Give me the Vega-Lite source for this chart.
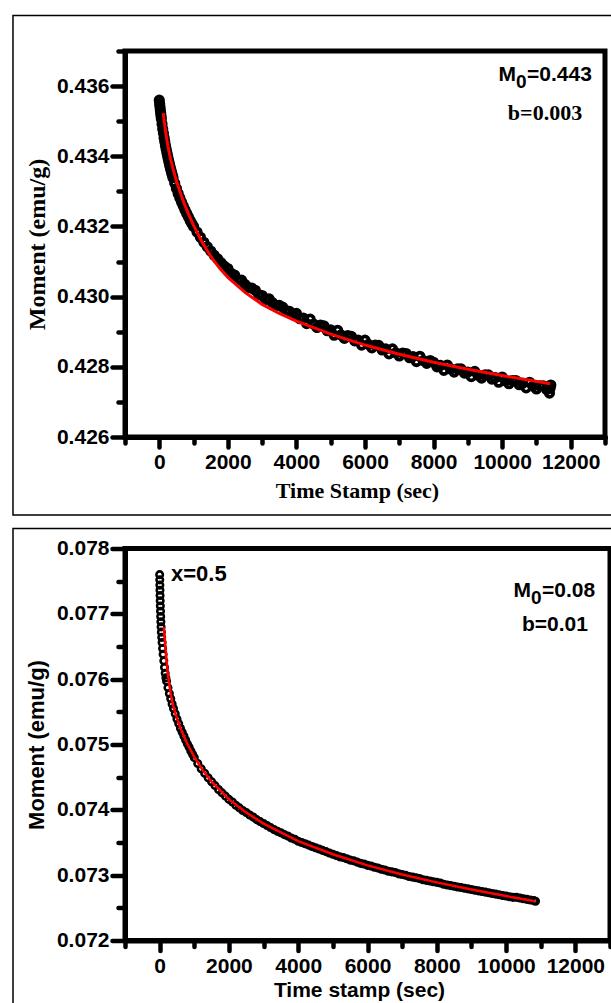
{
"$schema": "https://vega.github.io/schema/vega-lite/v6.json",
"padding": {"left": 9, "top": 12, "right": 0, "bottom": 0},
"spacing": 111.5,
"bounds": "flush",
"config": {
  "view": {"stroke": "black", "strokeWidth": 5},
  "axis": {"grid": false, "domainColor": "black", "domainWidth": 5, "domainCap": "round", "tickColor": "black", "tickWidth": 4.5, "tickCap": "round", "labelColor": "black", "titleColor": "black", "labelFont": "Liberation Sans", "labelFontWeight": "bold", "labelFontSize": 21, "titleFont": "Liberation Sans", "titleFontWeight": "bold", "titleFontSize": 22, "labelFlush": false, "labelOverlap": false}
},
"datasets": {
  "top": [
    {"t":0,"m":0.4356},{"t":10,"m":0.4355},{"t":20,"m":0.43541},{"t":30,"m":0.43532},{"t":40,"m":0.43523},{"t":50,"m":0.43515},{"t":60,"m":0.43507},{"t":80,"m":0.43492},{"t":100,"m":0.43478},{"t":120,"m":0.43466},{"t":140,"m":0.43453},{"t":160,"m":0.43442},{"t":180,"m":0.43431},{"t":200,"m":0.43421},{"t":220,"m":0.43411},{"t":240,"m":0.43402},{"t":260,"m":0.43393},{"t":280,"m":0.43384},{"t":300,"m":0.43376},{"t":320,"m":0.43368},{"t":340,"m":0.4336},{"t":360,"m":0.43353},{"t":380,"m":0.43346},{"t":400,"m":0.43339},{"t":450,"m":0.43323},{"t":500,"m":0.43308},{"t":550,"m":0.43294},{"t":600,"m":0.43281},{"t":650,"m":0.43269},{"t":700,"m":0.43258},{"t":750,"m":0.43247},{"t":800,"m":0.43237},{"t":850,"m":0.43227},{"t":900,"m":0.43217},{"t":950,"m":0.43208},
    {"t":1000,"m":0.432},{"t":1100,"m":0.43184},{"t":1200,"m":0.43169},{"t":1300,"m":0.43155},{"t":1400,"m":0.43142},{"t":1500,"m":0.4313},{"t":1600,"m":0.43118},{"t":1700,"m":0.43108},{"t":1800,"m":0.43097},{"t":1900,"m":0.43087},
    {"t":2000,"m":0.4308},{"t":2100,"m":0.43066},{"t":2200,"m":0.43061},{"t":2300,"m":0.43047},{"t":2400,"m":0.43047},{"t":2500,"m":0.43035},{"t":2600,"m":0.43026},{"t":2700,"m":0.43024},{"t":2800,"m":0.43018},{"t":2900,"m":0.43006},
    {"t":3000,"m":0.43003},{"t":3100,"m":0.42992},{"t":3200,"m":0.42994},{"t":3300,"m":0.42983},{"t":3400,"m":0.42975},{"t":3500,"m":0.42975},{"t":3600,"m":0.4297},{"t":3700,"m":0.4296},{"t":3800,"m":0.42958},{"t":3900,"m":0.42948},
    {"t":4000,"m":0.42952},{"t":4100,"m":0.42937},{"t":4200,"m":0.42939},{"t":4300,"m":0.42923},{"t":4400,"m":0.42936},{"t":4500,"m":0.42922},{"t":4600,"m":0.42912},{"t":4700,"m":0.42919},{"t":4800,"m":0.42917},{"t":4900,"m":0.42903},
    {"t":5000,"m":0.42905},{"t":5100,"m":0.4289},{"t":5200,"m":0.42904},{"t":5300,"m":0.42891},{"t":5400,"m":0.42881},{"t":5500,"m":0.42889},{"t":5600,"m":0.42887},{"t":5700,"m":0.42874},{"t":5800,"m":0.42876},{"t":5900,"m":0.42862},
    {"t":6000,"m":0.42876},{"t":6100,"m":0.42864},{"t":6200,"m":0.42854},{"t":6300,"m":0.42862},{"t":6400,"m":0.42861},{"t":6500,"m":0.42848},{"t":6600,"m":0.42851},{"t":6700,"m":0.42837},{"t":6800,"m":0.42851},{"t":6900,"m":0.4284},
    {"t":7000,"m":0.42831},{"t":7100,"m":0.42839},{"t":7200,"m":0.42838},{"t":7300,"m":0.42826},{"t":7400,"m":0.42829},{"t":7500,"m":0.42815},{"t":7600,"m":0.4283},{"t":7700,"m":0.42818},{"t":7800,"m":0.4281},{"t":7900,"m":0.42818},
    {"t":8000,"m":0.42813},{"t":8100,"m":0.428},{"t":8200,"m":0.42804},{"t":8300,"m":0.4279},{"t":8400,"m":0.42805},{"t":8500,"m":0.42794},{"t":8600,"m":0.42785},{"t":8700,"m":0.42794},{"t":8800,"m":0.42794},{"t":8900,"m":0.42782},
    {"t":9000,"m":0.42785},{"t":9100,"m":0.42772},{"t":9200,"m":0.42787},{"t":9300,"m":0.42776},{"t":9400,"m":0.42768},{"t":9500,"m":0.42777},{"t":9600,"m":0.42777},{"t":9700,"m":0.42765},{"t":9800,"m":0.42769},{"t":9900,"m":0.42756},
    {"t":10000,"m":0.42771},{"t":10100,"m":0.4276},{"t":10200,"m":0.42752},{"t":10300,"m":0.42761},{"t":10400,"m":0.42761},{"t":10500,"m":0.42749},{"t":10600,"m":0.42753},{"t":10700,"m":0.4274},{"t":10800,"m":0.42756},{"t":10900,"m":0.42745},
    {"t":11000,"m":0.42737},{"t":11100,"m":0.42746},{"t":11200,"m":0.42746},{"t":11300,"m":0.42735},{"t":11380,"m":0.42725},{"t":11400,"m":0.42739},{"t":11420,"m":0.42748}
  ],
  "topfit": [
    {"t":116,"m":0.43523},{"t":130,"m":0.43512},{"t":150,"m":0.43495},{"t":175,"m":0.43477},{"t":200,"m":0.4346},{"t":250,"m":0.4343},{"t":300,"m":0.43405},{"t":350,"m":0.43384},{"t":400,"m":0.43365},{"t":500,"m":0.4333},{"t":600,"m":0.433},{"t":700,"m":0.43272},{"t":850,"m":0.43236},{"t":1000,"m":0.43203},{"t":1250,"m":0.43155},{"t":1500,"m":0.43115},{"t":1750,"m":0.43082},{"t":2000,"m":0.43055},{"t":2500,"m":0.43012},{"t":3000,"m":0.42978},{"t":3500,"m":0.42952},{"t":4000,"m":0.4293},{"t":5000,"m":0.42893},{"t":6000,"m":0.42862},{"t":7000,"m":0.42836},{"t":8000,"m":0.42813},{"t":9000,"m":0.42793},{"t":10000,"m":0.42775},{"t":11400,"m":0.42752}
  ],
  "bottom": [
    {"t":0,"m":0.0776},{"t":3,"m":0.07752},{"t":6,"m":0.07744},{"t":9,"m":0.07736},{"t":12,"m":0.07728},{"t":16,"m":0.0772},{"t":20,"m":0.07712},{"t":25,"m":0.07704},{"t":30,"m":0.07696},{"t":36,"m":0.07688},{"t":42,"m":0.0768},{"t":50,"m":0.07672},{"t":60,"m":0.07664},{"t":70,"m":0.07656},{"t":85,"m":0.07647},{"t":100,"m":0.07638},{"t":120,"m":0.07628},{"t":140,"m":0.07618},{"t":160,"m":0.07609},{"t":180,"m":0.07602},{"t":200,"m":0.07597},{"t":240,"m":0.07587},{"t":280,"m":0.07578},{"t":320,"m":0.0757},{"t":360,"m":0.07562},{"t":400,"m":0.07555},{"t":450,"m":0.07547},{"t":500,"m":0.07539},{"t":550,"m":0.07532},{"t":600,"m":0.07525},{"t":650,"m":0.07519},{"t":700,"m":0.07513},{"t":750,"m":0.07507},{"t":800,"m":0.07501},{"t":850,"m":0.07496},{"t":900,"m":0.0749},{"t":950,"m":0.07485},
    {"t":1000,"m":0.0748},{"t":1100,"m":0.07471},{"t":1200,"m":0.07463},{"t":1300,"m":0.07456},{"t":1400,"m":0.07449},{"t":1500,"m":0.07443},{"t":1600,"m":0.07437},{"t":1700,"m":0.07431},{"t":1800,"m":0.07426},{"t":1900,"m":0.07421},
    {"t":2000,"m":0.07416},{"t":2100,"m":0.07412},{"t":2200,"m":0.07407},{"t":2300,"m":0.07403},{"t":2400,"m":0.07399},{"t":2500,"m":0.07396},{"t":2600,"m":0.07392},{"t":2700,"m":0.07389},{"t":2800,"m":0.07385},{"t":2900,"m":0.07382},
    {"t":3000,"m":0.07379},{"t":3100,"m":0.07376},{"t":3200,"m":0.07373},{"t":3300,"m":0.0737},{"t":3400,"m":0.07367},{"t":3500,"m":0.07365},{"t":3600,"m":0.07362},{"t":3700,"m":0.0736},{"t":3800,"m":0.07357},{"t":3900,"m":0.07355},
    {"t":4000,"m":0.07352},{"t":4100,"m":0.0735},{"t":4200,"m":0.07348},{"t":4300,"m":0.07346},{"t":4400,"m":0.07344},{"t":4500,"m":0.07342},{"t":4600,"m":0.0734},{"t":4700,"m":0.07338},{"t":4800,"m":0.07336},{"t":4900,"m":0.07334},
    {"t":5000,"m":0.07332},{"t":5100,"m":0.0733},{"t":5200,"m":0.07328},{"t":5300,"m":0.07327},{"t":5400,"m":0.07325},{"t":5500,"m":0.07323},{"t":5600,"m":0.07322},{"t":5700,"m":0.0732},{"t":5800,"m":0.07318},{"t":5900,"m":0.07317},
    {"t":6000,"m":0.07315},{"t":6100,"m":0.07314},{"t":6200,"m":0.07312},{"t":6300,"m":0.07311},{"t":6400,"m":0.07309},{"t":6500,"m":0.07308},{"t":6600,"m":0.07306},{"t":6700,"m":0.07305},{"t":6800,"m":0.07304},{"t":6900,"m":0.07302},
    {"t":7000,"m":0.07301},{"t":7100,"m":0.073},{"t":7200,"m":0.07298},{"t":7300,"m":0.07297},{"t":7400,"m":0.07296},{"t":7500,"m":0.07295},{"t":7600,"m":0.07293},{"t":7700,"m":0.07292},{"t":7800,"m":0.07291},{"t":7900,"m":0.0729},
    {"t":8000,"m":0.07289},{"t":8100,"m":0.07288},{"t":8200,"m":0.07286},{"t":8300,"m":0.07285},{"t":8400,"m":0.07284},{"t":8500,"m":0.07283},{"t":8600,"m":0.07282},{"t":8700,"m":0.07281},{"t":8800,"m":0.0728},{"t":8900,"m":0.07279},
    {"t":9000,"m":0.07278},{"t":9100,"m":0.07277},{"t":9200,"m":0.07276},{"t":9300,"m":0.07275},{"t":9400,"m":0.07274},{"t":9500,"m":0.07273},{"t":9600,"m":0.07272},{"t":9700,"m":0.07271},{"t":9800,"m":0.0727},{"t":9900,"m":0.07269},
    {"t":10000,"m":0.07268},{"t":10100,"m":0.07267},{"t":10200,"m":0.07266},{"t":10300,"m":0.07266},{"t":10400,"m":0.07265},{"t":10500,"m":0.07264},{"t":10600,"m":0.07263},{"t":10700,"m":0.07262},{"t":10800,"m":0.07261},{"t":10850,"m":0.0726}
  ],
  "bottomfit": [
    {"t":120,"m":0.0768},{"t":150,"m":0.0766},{"t":200,"m":0.07628},{"t":260,"m":0.07598},{"t":350,"m":0.07568},{"t":450,"m":0.07548},{"t":600,"m":0.07525},{"t":800,"m":0.07501},{"t":1000,"m":0.07481},{"t":1250,"m":0.0746},{"t":1500,"m":0.07443},{"t":2000,"m":0.07416},{"t":2500,"m":0.07396},{"t":3000,"m":0.07379},{"t":4000,"m":0.07352},{"t":5000,"m":0.07332},{"t":6000,"m":0.07315},{"t":7000,"m":0.07301},{"t":8000,"m":0.07289},{"t":9000,"m":0.07278},{"t":10000,"m":0.07268},{"t":10850,"m":0.0726}
  ]
},
"vconcat": [
  {
    "width": 480,
    "height": 386,
    "resolve": {"axis": {"x": "independent", "y": "independent"}},
    "layer": [
      {
        "data": {"values": [{}]},
        "mark": {"type": "rect", "fillOpacity": 0, "stroke": "black", "strokeWidth": 1.5},
        "encoding": {
          "x": {"datum": -4267, "type": "quantitative", "scale": {"domain": [-1000, 13000], "nice": false, "zero": false}, "axis": null},
          "x2": {"datum": 13300},
          "y": {"datum": 0.438012, "type": "quantitative", "scale": {"domain": [0.426, 0.437], "nice": false, "zero": false}, "axis": null},
          "y2": {"datum": 0.423777}
        }
      },
      {
        "data": {"name": "top"},
        "mark": {"type": "point", "shape": "circle", "filled": false, "stroke": "black", "strokeWidth": 3.8, "size": 55, "opacity": 1},
        "encoding": {
          "x": {"field": "t", "type": "quantitative", "scale": {"domain": [-1000, 13000], "nice": false, "zero": false},
                "axis": {"orient": "bottom", "values": [0, 2000, 4000, 6000, 8000, 10000, 12000], "format": "d", "title": "Time Stamp (sec)", "titleFont": "Liberation Serif", "titleX": 232, "tickSize": 10, "labelPadding": 4, "titlePadding": 8}},
          "y": {"field": "m", "type": "quantitative", "scale": {"domain": [0.426, 0.437], "nice": false, "zero": false},
                "axis": {"orient": "left", "values": [0.426, 0.428, 0.43, 0.432, 0.434, 0.436], "format": ".3f", "title": "Moment (emu/g)", "titleFont": "Liberation Serif", "titleFontSize": 24, "tickSize": 13, "labelPadding": 3, "titlePadding": 7}}
        }
      },
      {
        "data": {"name": "topfit"},
        "mark": {"type": "line", "color": "#ff0000", "strokeWidth": 3},
        "encoding": {
          "x": {"field": "t", "type": "quantitative", "scale": {"domain": [-1000, 13000], "nice": false, "zero": false},
                "axis": {"orient": "bottom", "values": [-1000, 1000, 3000, 5000, 7000, 9000, 11000, 13000], "labels": false, "domain": false, "title": null, "tickSize": 6}},
          "y": {"field": "m", "type": "quantitative", "scale": {"domain": [0.426, 0.437], "nice": false, "zero": false},
                "axis": {"orient": "left", "values": [0.427, 0.429, 0.431, 0.433, 0.435, 0.437], "labels": false, "domain": false, "title": null, "tickSize": 7}}
        }
      },
      {
        "data": {"values": [{}]},
        "mark": {"type": "text", "text": "M", "align": "right", "baseline": "alphabetic", "font": "Liberation Sans", "fontWeight": "bold", "fontSize": 21, "color": "black"},
        "encoding": {
          "x": {"datum": 10404, "type": "quantitative", "scale": {"domain": [-1000, 13000], "nice": false, "zero": false}, "axis": null},
          "y": {"datum": 0.43615, "type": "quantitative", "scale": {"domain": [0.426, 0.437], "nice": false, "zero": false}, "axis": null}
        }
      },
      {
        "data": {"values": [{}]},
        "mark": {"type": "text", "text": "0", "align": "left", "baseline": "alphabetic", "dy": 7, "font": "Liberation Sans", "fontWeight": "bold", "fontSize": 19, "color": "black"},
        "encoding": {
          "x": {"datum": 10404, "type": "quantitative", "scale": {"domain": [-1000, 13000], "nice": false, "zero": false}, "axis": null},
          "y": {"datum": 0.43615, "type": "quantitative", "scale": {"domain": [0.426, 0.437], "nice": false, "zero": false}, "axis": null}
        }
      },
      {
        "data": {"values": [{}]},
        "mark": {"type": "text", "text": "=0.443", "align": "left", "baseline": "alphabetic", "dx": 11, "font": "Liberation Sans", "fontWeight": "bold", "fontSize": 21, "color": "black"},
        "encoding": {
          "x": {"datum": 10404, "type": "quantitative", "scale": {"domain": [-1000, 13000], "nice": false, "zero": false}, "axis": null},
          "y": {"datum": 0.43615, "type": "quantitative", "scale": {"domain": [0.426, 0.437], "nice": false, "zero": false}, "axis": null}
        }
      },
      {
        "data": {"values": [{}]},
        "mark": {"type": "text", "text": "b=0.003", "align": "center", "baseline": "alphabetic", "font": "Liberation Serif", "fontWeight": "bold", "fontSize": 22, "color": "black"},
        "encoding": {
          "x": {"datum": 11250, "type": "quantitative", "scale": {"domain": [-1000, 13000], "nice": false, "zero": false}, "axis": null},
          "y": {"datum": 0.43503, "type": "quantitative", "scale": {"domain": [0.426, 0.437], "nice": false, "zero": false}, "axis": null}
        }
      }
    ]
  },
  {
    "width": 485,
    "height": 392,
    "resolve": {"axis": {"x": "independent", "y": "independent"}},
    "layer": [
      {
        "data": {"values": [{}]},
        "mark": {"type": "rect", "fillOpacity": 0, "stroke": "black", "strokeWidth": 1.5},
        "encoding": {
          "x": {"datum": -4233, "type": "quantitative", "scale": {"domain": [-1000, 13000], "nice": false, "zero": false}, "axis": null},
          "x2": {"datum": 13144},
          "y": {"datum": 0.078306, "type": "quantitative", "scale": {"domain": [0.072, 0.078], "nice": false, "zero": false}, "axis": null},
          "y2": {"datum": 0.07102}
        }
      },
      {
        "data": {"name": "bottom"},
        "mark": {"type": "point", "shape": "circle", "filled": false, "stroke": "black", "strokeWidth": 2.6, "size": 42, "opacity": 1},
        "encoding": {
          "x": {"field": "t", "type": "quantitative", "scale": {"domain": [-1000, 13000], "nice": false, "zero": false},
                "axis": {"orient": "bottom", "values": [0, 2000, 4000, 6000, 8000, 10000, 12000], "format": "d", "title": "Time stamp (sec)", "titleFontSize": 21, "titleX": 234, "tickSize": 10, "labelPadding": 5, "titlePadding": 3}},
          "y": {"field": "m", "type": "quantitative", "scale": {"domain": [0.072, 0.078], "nice": false, "zero": false},
                "axis": {"orient": "left", "values": [0.072, 0.073, 0.074, 0.075, 0.076, 0.077, 0.078], "format": ".3f", "title": "Moment (emu/g)", "tickSize": 13, "labelPadding": 3, "titlePadding": 8}}
        }
      },
      {
        "data": {"name": "bottomfit"},
        "mark": {"type": "line", "color": "#ff0000", "strokeWidth": 2.5},
        "encoding": {
          "x": {"field": "t", "type": "quantitative", "scale": {"domain": [-1000, 13000], "nice": false, "zero": false},
                "axis": {"orient": "bottom", "values": [-1000, 1000, 3000, 5000, 7000, 9000, 11000, 13000], "labels": false, "domain": false, "title": null, "tickSize": 6}},
          "y": {"field": "m", "type": "quantitative", "scale": {"domain": [0.072, 0.078], "nice": false, "zero": false},
                "axis": {"orient": "left", "values": [0.0725, 0.0735, 0.0745, 0.0755, 0.0765, 0.0775], "labels": false, "domain": false, "title": null, "tickSize": 7}}
        }
      },
      {
        "data": {"values": [{}]},
        "mark": {"type": "text", "text": "x=0.5", "align": "left", "baseline": "alphabetic", "font": "Liberation Sans", "fontWeight": "bold", "fontSize": 22, "color": "black"},
        "encoding": {
          "x": {"datum": 328, "type": "quantitative", "scale": {"domain": [-1000, 13000], "nice": false, "zero": false}, "axis": null},
          "y": {"datum": 0.07751, "type": "quantitative", "scale": {"domain": [0.072, 0.078], "nice": false, "zero": false}, "axis": null}
        }
      },
      {
        "data": {"values": [{}]},
        "mark": {"type": "text", "text": "M", "align": "right", "baseline": "alphabetic", "font": "Liberation Sans", "fontWeight": "bold", "fontSize": 21, "color": "black"},
        "encoding": {
          "x": {"datum": 10720, "type": "quantitative", "scale": {"domain": [-1000, 13000], "nice": false, "zero": false}, "axis": null},
          "y": {"datum": 0.077265, "type": "quantitative", "scale": {"domain": [0.072, 0.078], "nice": false, "zero": false}, "axis": null}
        }
      },
      {
        "data": {"values": [{}]},
        "mark": {"type": "text", "text": "0", "align": "left", "baseline": "alphabetic", "dy": 7, "font": "Liberation Sans", "fontWeight": "bold", "fontSize": 19, "color": "black"},
        "encoding": {
          "x": {"datum": 10720, "type": "quantitative", "scale": {"domain": [-1000, 13000], "nice": false, "zero": false}, "axis": null},
          "y": {"datum": 0.077265, "type": "quantitative", "scale": {"domain": [0.072, 0.078], "nice": false, "zero": false}, "axis": null}
        }
      },
      {
        "data": {"values": [{}]},
        "mark": {"type": "text", "text": "=0.08", "align": "left", "baseline": "alphabetic", "dx": 11, "font": "Liberation Sans", "fontWeight": "bold", "fontSize": 21, "color": "black"},
        "encoding": {
          "x": {"datum": 10720, "type": "quantitative", "scale": {"domain": [-1000, 13000], "nice": false, "zero": false}, "axis": null},
          "y": {"datum": 0.077265, "type": "quantitative", "scale": {"domain": [0.072, 0.078], "nice": false, "zero": false}, "axis": null}
        }
      },
      {
        "data": {"values": [{}]},
        "mark": {"type": "text", "text": "b=0.01", "align": "center", "baseline": "alphabetic", "font": "Liberation Sans", "fontWeight": "bold", "fontSize": 21, "color": "black"},
        "encoding": {
          "x": {"datum": 11412, "type": "quantitative", "scale": {"domain": [-1000, 13000], "nice": false, "zero": false}, "axis": null},
          "y": {"datum": 0.07673, "type": "quantitative", "scale": {"domain": [0.072, 0.078], "nice": false, "zero": false}, "axis": null}
        }
      }
    ]
  }
]
}
